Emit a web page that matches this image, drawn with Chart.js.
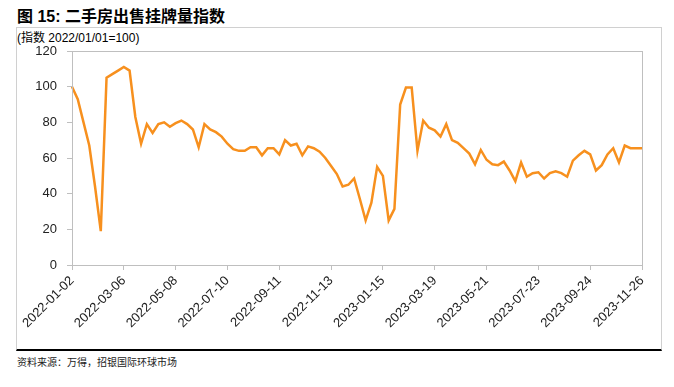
<!DOCTYPE html>
<html>
<head>
<meta charset="utf-8">
<script src="https://cdn.jsdelivr.net/npm/chart.js@4"></script>
<style>
  body { margin: 0; background: #fff; }
  #wrap { position: relative; width: 674px; height: 387px; overflow: hidden; font-family: "Liberation Sans", "Noto Sans CJK SC", sans-serif; }
  #title { position: absolute; left: 17px; top: 3px; font-size: 16px; font-weight: bold; color: #000; font-family: "Liberation Sans", "Noto Sans CJK SC", sans-serif; }
  #box { position: absolute; left: 16px; top: 27px; width: 644px; height: 321px; border: 1px solid #d0d0d0; border-bottom: 2px solid #000; }
  #unit { position: absolute; left: 17px; top: 28px; font-size: 12px; color: #000; }
  #source { position: absolute; left: 17px; top: 354px; font-size: 10px; color: #222; font-family: "Noto Sans CJK SC", sans-serif; }
  canvas { position: absolute; left: 0; top: 0; }
</style>
</head>
<body>
<div id="wrap">
  <div id="title">图 15: 二手房出售挂牌量指数</div>
  <div id="box"></div>
  <div id="unit">(指数 2022/01/01=100)</div>
  <div id="source">资料来源：万得，招银国际环球市场</div>
  <canvas id="chart" width="674" height="387"></canvas>
</div>
<script>
// weekly dates, 2022-01-02 .. 2023-11-26
const startDate = '2022-01-02'
const weekCount = 100
const tickEvery = 9
const yTicks = [0, 20, 40, 60, 80, 100, 120]

// listing volume index
const indexValues = [
    100, 93, 80, 67, 44, 19, 105, 107, 109, 111,
    109, 83, 68, 79, 74, 79, 80, 77.5, 79.5, 81,
    79, 76, 66, 79, 76, 74.5, 72, 68, 65, 64,
    64, 66, 66, 61.5, 65.5, 65.5, 62, 70, 67, 68,
    61.5, 66.5, 65.5, 63.5, 60, 55.5, 51, 44, 45, 48.5,
    37, 25, 35, 55, 50, 25, 31.5, 90, 99.5, 99.5,
    64, 81, 77, 75.5, 72, 79, 70, 68.5, 65.5, 62.5,
    56.5, 64.5, 59, 56.5, 56, 58, 53, 47, 57.5, 49.5,
    51.5, 52, 48.5, 51.5, 52.5, 51.5, 49.5, 58.5, 61.5, 64,
    62, 53, 56, 62, 65.5, 57.5, 67, 65.5, 65.5, 65.5
]

function weekLabels(start, n) {
    let out = []
    let d = new Date(start + 'T00:00:00Z')
    for (let i = 0; i < n; ++i) {
        out.push(d.toISOString().slice(0, 10))
        d.setUTCDate(d.getUTCDate() + 7)
    }
    return out
}
const dates = weekLabels(startDate, weekCount)

const axisFont = { family: '"Liberation Sans", Arial, sans-serif', size: 13 }
const axisColor = '#bfbfbf'

// thin box round the plot area
const plotBox = {
    id: 'plotBox',
    afterDraw(chart) {
        const a = chart.chartArea
        const ctx = chart.ctx
        ctx.save()
        ctx.strokeStyle = axisColor
        ctx.lineWidth = 1
        ctx.strokeRect(Math.round(a.left) + 0.5, Math.round(a.top) + 0.5, Math.round(a.right - a.left), Math.round(a.bottom - a.top))
        ctx.restore()
    }
}

new Chart(document.getElementById('chart').getContext('2d'), {
    type: 'line',
    data: {
        labels: dates,
        datasets: [{
            data: indexValues,
            borderColor: '#f7901e',
            backgroundColor: '#f7901e',
            borderWidth: 2.5,
            pointRadius: 0,
            tension: 0,
            fill: false
        }]
    },
    options: {
        responsive: false,
        animation: false,
        layout: { padding: { left: 0, right: 32, top: 51, bottom: 0 } },
        plugins: {
            legend: { display: false },
            tooltip: { enabled: false }
        },
        scales: {
            x: {
                offset: false,
                afterFit: (axis) => { axis.height = 122 },
                grid: {
                    drawOnChartArea: false,
                    tickLength: 5,
                    color: (c) => (c.index % tickEvery === 0 ? axisColor : 'rgba(0,0,0,0)')
                },
                border: { color: axisColor },
                ticks: {
                    autoSkip: false,
                    maxRotation: 45,
                    minRotation: 45,
                    padding: 3,
                    color: '#222',
                    font: { family: axisFont.family, size: 13 },
                    callback: function (v, i) { return i % tickEvery === 0 ? dates[i] : '' }
                }
            },
            y: {
                min: 0,
                max: 120,
                afterFit: (axis) => { axis.width = 72 },
                afterBuildTicks: (axis) => { axis.ticks = yTicks.map((v) => ({ value: v })) },
                grid: { drawOnChartArea: false, tickLength: 5, color: axisColor },
                border: { color: axisColor },
                ticks: { padding: 10, color: '#222', font: axisFont }
            }
        }
    },
    plugins: [plotBox]
});
</script>
</body>
</html>
